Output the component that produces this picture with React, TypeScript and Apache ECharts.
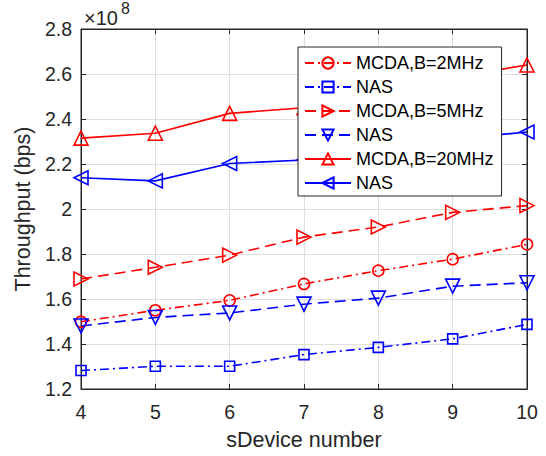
import React, { useEffect, useRef } from "react";
import * as echarts from "echarts";

const devices = [4, 5, 6, 7, 8, 9, 10];
const mcda2 = [1.499e8, 1.55e8, 1.594e8, 1.667e8, 1.726e8, 1.777e8, 1.843e8];
const nas2 = [1.282e8, 1.301e8, 1.301e8, 1.353e8, 1.385e8, 1.423e8, 1.487e8];
const mcda5 = [1.689e8, 1.741e8, 1.795e8, 1.875e8, 1.92e8, 1.985e8, 2.015e8];
const nas5 = [1.48e8, 1.518e8, 1.538e8, 1.577e8, 1.604e8, 1.657e8, 1.672e8];
const mcda20 = [2.315e8, 2.337e8, 2.425e8, 2.45e8, 2.51e8, 2.585e8, 2.64e8];
const nas20 = [2.139e8, 2.125e8, 2.202e8, 2.218e8, 2.26e8, 2.311e8, 2.342e8];
const yTicks = { min: 1.2e8, max: 2.8e8, interval: 0.2e8 };

const RED = "#ff0000";
const BLUE = "#0000ff";
const AX = "#262626";
const GRID = "#dfdfdf";
const FONT = "Liberation Sans";
const DASH = [11, 6];
const DASHDOT = [9, 4, 2, 4];

function pairs(vals: number[]) {
  return devices.map((d, i) => [d, vals[i]]);
}

function mk(name: string, vals: number[], color: string, dash: any, symbol: string, size: number, rot: number) {
  return {
    type: "line",
    name,
    data: pairs(vals),
    xAxisIndex: 0,
    yAxisIndex: 0,
    symbol,
    symbolSize: size,
    symbolRotate: rot,
    showAllSymbol: true,
    color,
    lineStyle: { color, width: 1.6, type: dash },
    itemStyle: { color: "rgba(255,255,255,0)", borderColor: color, borderWidth: 1.6 },
    emphasis: { disabled: true },
    z: 3,
  };
}

export default function App() {
  const ref = useRef<HTMLDivElement>(null);
  useEffect(() => {
    const chart = echarts.init(ref.current!, null, { renderer: "svg" });
    const fmt = (v: number) => String(+(v / 1e8).toFixed(1));
    const tickCommon = { inside: true, length: 5, lineStyle: { color: AX } };
    chart.setOption({
      animation: false,
      title: [
        { text: "×10", left: 84, top: 8, padding: 0, textStyle: { fontFamily: FONT, fontSize: 20, fontWeight: "normal", color: AX } },
        { text: "8", left: 121, top: 0, padding: 0, textStyle: { fontFamily: FONT, fontSize: 16, fontWeight: "normal", color: AX } },
      ],
      grid: { left: 81, right: 19, top: 29, bottom: 63, show: true, borderColor: AX, borderWidth: 1, backgroundColor: "#fff" },
      xAxis: [
        {
          type: "value", min: 4, max: 10, interval: 1, position: "bottom",
          name: "sDevice number", nameLocation: "middle", nameGap: 40,
          nameTextStyle: { fontFamily: FONT, fontSize: 21.5, color: AX },
          axisLine: { lineStyle: { color: AX, width: 1 } },
          axisTick: tickCommon,
          axisLabel: { fontFamily: FONT, fontSize: 19.5, color: AX, margin: 13 },
          splitLine: { show: true, lineStyle: { color: GRID, width: 1 } },
        },
        {
          type: "value", min: 4, max: 10, interval: 1, position: "top",
          axisLine: { lineStyle: { color: AX } }, axisTick: tickCommon,
          axisLabel: { show: false }, splitLine: { show: false },
        },
      ],
      yAxis: [
        {
          type: "value", min: yTicks.min, max: yTicks.max, interval: yTicks.interval, position: "left",
          name: "Throughput (bps)", nameLocation: "middle", nameGap: 46, nameRotate: 90,
          nameTextStyle: { fontFamily: FONT, fontSize: 21.5, color: AX },
          axisLine: { show: true, lineStyle: { color: AX, width: 1 } },
          axisTick: { show: true, ...tickCommon },
          axisLabel: { fontFamily: FONT, fontSize: 19.5, color: AX, margin: 9, formatter: fmt },
          splitLine: { show: true, lineStyle: { color: GRID, width: 1 } },
        },
        {
          type: "value", min: yTicks.min, max: yTicks.max, interval: yTicks.interval, position: "right",
          axisLine: { show: true, lineStyle: { color: AX } }, axisTick: { show: true, ...tickCommon },
          axisLabel: { show: false }, splitLine: { show: false },
        },
      ],
      legend: {
        left: 298, top: 47, orient: "vertical",
        padding: [7, 8, 4, 6], itemGap: 6, itemWidth: 46, itemHeight: 14,
        backgroundColor: "#fff", borderColor: AX, borderWidth: 1, borderRadius: 0,
        textStyle: { fontFamily: FONT, fontSize: 18, color: "#000" },
        formatter: (n: string) => (n.startsWith("NAS") ? "NAS" : n),
        data: ["MCDA,B=2MHz", "NAS-2", "MCDA,B=5MHz", "NAS-5", "MCDA,B=20MHz", "NAS-20"],
      },
      series: [
        mk("MCDA,B=2MHz", mcda2, RED, DASHDOT, "circle", 11, 0),
        mk("NAS-2", nas2, BLUE, DASHDOT, "rect", 10, 0),
        mk("MCDA,B=5MHz", mcda5, RED, DASH, "triangle", 14, -90),
        mk("NAS-5", nas5, BLUE, DASH, "triangle", 14, 180),
        mk("MCDA,B=20MHz", mcda20, RED, "solid", "triangle", 14, 0),
        mk("NAS-20", nas20, BLUE, "solid", "triangle", 14, 90),
      ],
    });
    return () => chart.dispose();
  }, []);
  return <div ref={ref} style={{ position: "fixed", left: 0, top: 0, width: 546, height: 456, background: "#fff" }} />;
}
